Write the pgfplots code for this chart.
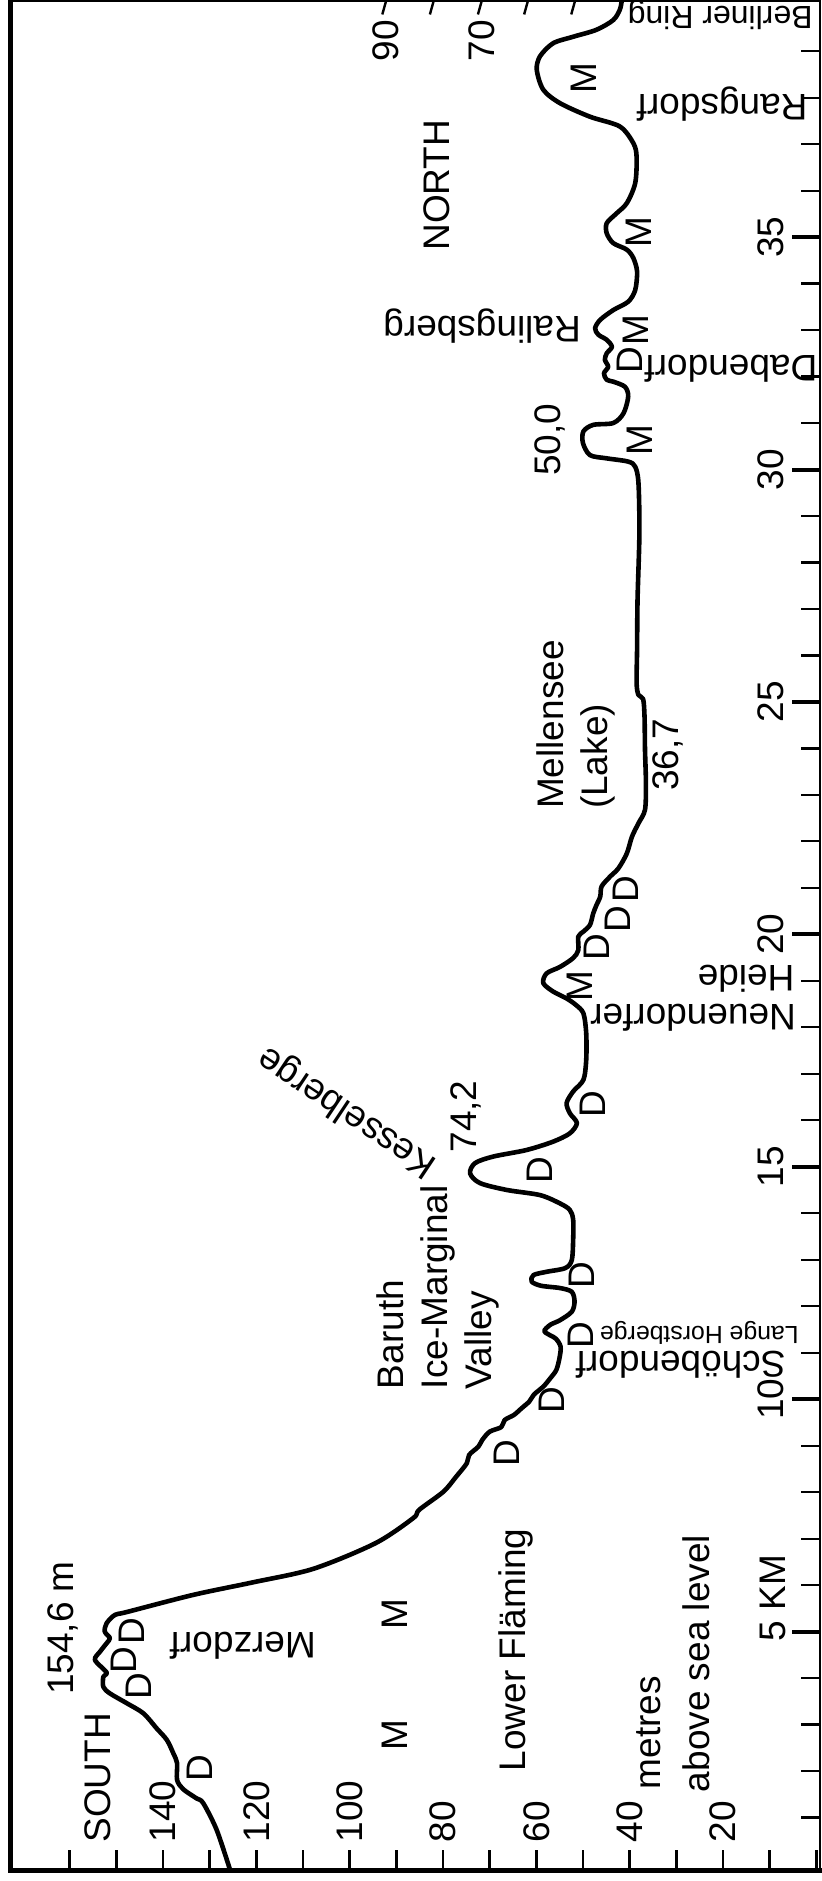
\documentclass[border=0pt]{standalone}
\usepackage{fontspec}
\setmainfont{Liberation Sans}
\usepackage{pgfplots}
\pgfplotsset{compat=1.18}
\newlength{\px}\setlength{\px}{0.25pt}
\begin{document}
\begin{tikzpicture}[font=\fontsize{9.25}{11}\selectfont,
  v/.style={rotate=90, anchor=base west, inner sep=0pt},
  vc/.style={rotate=90, anchor=center, inner sep=0pt},
  u/.style={rotate=180, anchor=base west, inner sep=0pt}]
\path[use as bounding box] (0,0) rectangle (822\px,1881\px);
\begin{axis}[
  at={(11\px,10.5\px)}, anchor=south west,
  scale only axis, width=809\px, height=1869.5\px,
  x dir=reverse,
  xmin=-0.81, xmax=172.6, ymin=-0.14, ymax=40.08,
  axis line style={draw=none},
  xtick={0,10,...,160},
  ytick={5,10,...,35}, minor ytick={1,...,39},
  xticklabels={}, yticklabels={},
  xtick pos=left, ytick pos=right,
  tick align=inside,
  major tick length=20\px, minor tick length=19\px,
  major tick style={line width=0.65pt, black},
  minor tick style={line width=0.55pt, black},
  extra y ticks={5,10,...,35}, extra y tick labels={},
  extra y tick style={major tick length=28\px, major tick style={line width=1pt, black}},
  clip=false,
]
\addplot[line width=1.15pt, black, smooth, tension=0.5, line join=round] coordinates {
(125.6,-0.14) (128.5,0.73) (131.4,1.31) (132.8,1.41) (135.7,1.61) (137.0,1.81)
(137.0,2.17) (137.8,2.38) (139.2,2.67) (141.4,2.92) (144.2,3.24) (147.8,3.46)
(151.4,3.67) (152.8,3.81) (152.8,4.03) (152.1,4.12) (154.6,4.39) (153.5,4.57)
(152.1,4.75) (151.4,4.86) (152.5,5.00) (152.1,5.18) (150.3,5.36) (147.8,5.42)
(133.5,5.79) (120.7,6.06) (107.8,6.35) (94.5,6.90) (86.4,7.44) (85.1,7.62)
(79.9,8.01) (77.2,8.33) (74.9,8.62) (74.4,8.80) (72.4,8.98) (71.6,9.12)
(70.0,9.30) (67.5,9.40) (66.8,9.55) (64.8,9.66) (63.2,9.80) (61.5,9.95)
(60.5,10.10) (58.5,10.27) (57.0,10.45) (55.7,10.63) (55.0,10.90) (54.8,11.13)
(55.8,11.30) (57.5,11.40) (58.3,11.47) (57.0,11.60) (54.9,11.70) (52.4,11.88)
(51.8,12.10) (52.4,12.31) (54.9,12.39) (59.0,12.44) (61.0,12.53) (60.6,12.67)
(57.8,12.74) (53.8,12.82) (52.4,12.99) (52.1,13.43) (52.1,13.86) (52.8,14.07)
(54.9,14.21) (59.2,14.39) (66.3,14.50) (72.1,14.65) (74.2,14.86) (73.1,15.08)
(69.2,15.22) (62.1,15.36) (56.4,15.54) (52.8,15.72) (51.3,15.94) (52.8,16.15)
(53.5,16.37) (52.1,16.62) (49.9,16.87) (49.3,17.30) (49.3,17.87) (49.9,18.30)
(51.5,18.48) (53.5,18.62) (56.4,18.77) (58.5,18.95) (57.8,19.16) (54.9,19.30)
(52.1,19.49) (51.0,19.66) (51.0,19.95) (49.9,20.06) (48.5,20.20) (47.8,20.45)
(47.1,20.63) (46.3,20.81) (46.0,21.03) (44.2,21.24) (42.4,21.42) (40.6,21.74)
(39.5,22.10) (38.1,22.39) (36.7,22.68) (36.5,23.25) (36.7,23.97) (36.8,24.68)
(37.1,25.06) (38.1,25.15) (38.5,25.40) (38.4,26.12) (38.3,27.19) (37.9,28.63)
(38.1,29.71) (38.8,30.06) (40.3,30.17) (44.9,30.24) (48.5,30.31) (50.0,30.57)
(49.9,30.82) (47.8,30.96) (43.5,31.00) (41.3,31.21) (40.3,31.57) (41.0,31.78)
(43.5,31.89) (44.9,31.93) (45.5,32.07) (44.6,32.21) (45.3,32.36) (44.9,32.50)
(43.8,32.64) (44.9,32.79) (46.7,32.90) (47.4,33.04) (46.3,33.22) (43.5,33.43)
(40.3,33.61) (38.8,33.86) (38.4,34.26) (39.2,34.55) (40.6,34.73) (43.5,34.87)
(44.9,35.08) (44.9,35.30) (42.8,35.51) (40.6,35.73) (38.8,36.16) (38.5,36.73)
(39.2,37.02) (42.1,37.38) (48.5,37.59) (54.9,37.88) (58.5,38.17) (59.9,38.60)
(59.2,38.89) (56.4,39.17) (52.1,39.31) (47.1,39.46) (43.5,39.67) (42.1,39.89)
(41.7,40.08)
};
% frame
\draw[line width=1.25pt, line cap=rect] (axis cs:172.6,40.08) -- (axis cs:172.6,-0.14) -- (axis cs:-0.81,-0.14);
\draw[line width=0.5pt] (axis cs:172.6,40.08) -- (axis cs:-0.81,40.08) -- (axis cs:-0.81,-0.14);
% top ticks
\draw[line width=0.6pt] (axis cs:92.2,40.08) -- ++(0,-20\px);
\draw[line width=0.6pt] (axis cs:82.0,40.08) -- ++(0,-20\px);
\draw[line width=0.6pt] (axis cs:71.7,40.08) -- ++(0,-20\px);
\draw[line width=0.6pt] (axis cs:61.8,40.08) -- ++(0,-20\px);
\draw[line width=0.6pt] (axis cs:51.7,40.08) -- ++(0,-20\px);
\node[rotate=90,anchor=west,inner sep=0pt] at (axis cs:92.2,38.77) {90};
\node[rotate=90,anchor=west,inner sep=0pt] at (axis cs:71.7,38.77) {70};
% bottom tick labels
\node[rotate=90,anchor=west,inner sep=0pt] at (axis cs:140,0.445) {140};
\node[rotate=90,anchor=west,inner sep=0pt] at (axis cs:120,0.445) {120};
\node[rotate=90,anchor=west,inner sep=0pt] at (axis cs:100,0.445) {100};
\node[rotate=90,anchor=west,inner sep=0pt] at (axis cs:80,0.445) {80};
\node[rotate=90,anchor=west,inner sep=0pt] at (axis cs:60,0.445) {60};
\node[rotate=90,anchor=west,inner sep=0pt] at (axis cs:40,0.445) {40};
\node[rotate=90,anchor=west,inner sep=0pt] at (axis cs:20,0.445) {20};
% km labels
\node[v] at (axis cs:6.6,4.78) {5 KM};
\node[rotate=90,anchor=south,inner sep=0pt] at (axis cs:6.7,10) {10};
\node[rotate=90,anchor=south,inner sep=0pt] at (axis cs:6.7,15) {15};
\node[rotate=90,anchor=south,inner sep=0pt] at (axis cs:6.7,20) {20};
\node[rotate=90,anchor=south,inner sep=0pt] at (axis cs:6.7,25) {25};
\node[rotate=90,anchor=south,inner sep=0pt] at (axis cs:6.7,30) {30};
\node[rotate=90,anchor=south,inner sep=0pt] at (axis cs:6.7,35) {35};
% vertical labels
\node[v] at (axis cs:151.3,0.445) {SOUTH};
\node[v] at (axis cs:159.1,3.62) {154,6 m};
\node[v] at (axis cs:62.4,1.98) {Lower Fläming};
\node[v] at (axis cs:33.3,1.59) {metres};
\node[v] at (axis cs:22.9,1.53) {above sea level};
\node[v] at (axis cs:88.5,10.2) {Baruth};
\node[v] at (axis cs:79.0,10.2) {Ice-Marginal};
\node[v] at (axis cs:69.5,10.2) {Valley};
\node[v] at (axis cs:72.9,15.29) {74,2};
\node[v] at (axis cs:54.1,22.68) {Mellensee};
\node[v] at (axis cs:44.8,22.68) {(Lake)};
\node[v] at (axis cs:29.6,23.07) {36,7};
\node[v] at (axis cs:54.9,29.85) {50,0};
\node[v] at (axis cs:78.7,34.69) {NORTH};
% D and M
\node[vc] at (axis cs:132.1,2.06) {D};
\node[vc] at (axis cs:145.3,3.83) {D};
\node[vc] at (axis cs:148.5,4.39) {D};
\node[vc] at (axis cs:146.7,5.02) {D};
\node[vc] at (axis cs:66.3,8.84) {D};
\node[vc] at (axis cs:56.7,9.97) {D};
\node[vc] at (axis cs:50.5,11.37) {D};
\node[vc] at (axis cs:50.3,12.66) {D};
\node[vc] at (axis cs:59.2,14.93) {D};
\node[vc] at (axis cs:47.95,16.35) {D};
\node[vc] at (axis cs:47.05,19.72) {D};
\node[vc] at (axis cs:42.6,20.33) {D};
\node[vc] at (axis cs:40.8,20.98) {D};
\node[vc] at (axis cs:39.9,32.36) {D};
\node[vc] at (axis cs:90.3,2.77) {M};
\node[vc] at (axis cs:90.3,5.38) {M};
\node[vc] at (axis cs:50.6,18.89) {M};
\node[vc] at (axis cs:37.8,30.64) {M};
\node[vc] at (axis cs:38.7,32.99) {M};
\node[vc] at (axis cs:38.0,35.1) {M};
\node[vc] at (axis cs:49.9,38.42) {M};
% upside-down place names
\node[u] at (axis cs:107.1,4.97) {Merzdorf};
\node[u] at (axis cs:6.4,11.02) {Schöbendorf};
\node[u, font=\fontsize{6.2}{7}\selectfont] at (axis cs:3.6,11.57) {Lange Horstberge};
\node[u] at (axis cs:4.2,18.48) {Neuendorfer};
\node[u] at (axis cs:4.5,19.32) {Heide};
\node[u] at (axis cs:-0.4,32.46) {Dabendorf};
\node[u] at (axis cs:50.3,33.29) {Ralingsberg};
\node[u] at (axis cs:1.7,38.06) {Rangsdorf};
\node[u, font=\fontsize{8}{9}\selectfont] at (axis cs:0.6,39.96) {Berliner Ring};
\node[rotate=146.3, anchor=center, inner sep=0pt] at (axis cs:100.5,16.19) {Kesselberge};
\end{axis}
\end{tikzpicture}
\end{document}
